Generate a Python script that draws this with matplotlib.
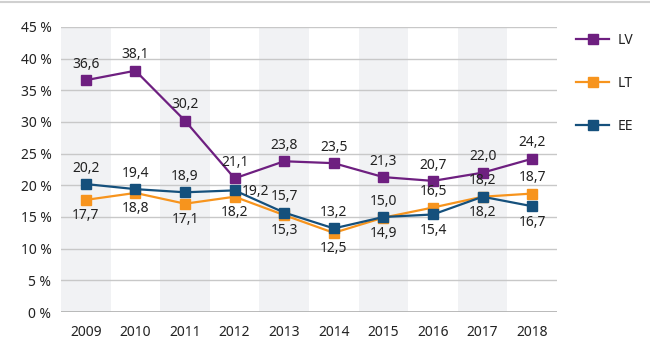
import matplotlib
matplotlib.use("Agg")
import matplotlib.pyplot as plt
from matplotlib.lines import Line2D

years = [2009, 2010, 2011, 2012, 2013, 2014, 2015, 2016, 2017, 2018]
lv = [36.6, 38.1, 30.2, 21.1, 23.8, 23.5, 21.3, 20.7, 22.0, 24.2]
lt = [17.7, 18.8, 17.1, 18.2, 15.3, 12.5, 14.9, 16.5, 18.2, 18.7]
ee = [20.2, 19.4, 18.9, 19.2, 15.7, 13.2, 15.0, 15.4, 18.2, 16.7]
yticks = [0, 5, 10, 15, 20, 25, 30, 35, 40, 45]

# label placement: 'a' above, 'b' below, 'r' right
lv_pos = ['a'] * 10
lt_pos = ['b', 'b', 'b', 'b', 'b', 'b', 'b', 'a', 'b', 'a']
ee_pos = ['a', 'a', 'a', 'r', 'a', 'a', 'a', 'b', 'a', 'b']

c_lv = '#6E1F80'
c_lt = '#F7941D'
c_ee = '#15507C'

plt.rcParams['font.family'] = ['Noto Sans', 'DejaVu Sans']
fig = plt.figure(figsize=(6.5, 3.61), dpi=100)
ax = fig.add_axes([61/650, 1 - 312/361, (557-61)/650, (312-27)/361])

x = list(range(len(years)))
for i in x:
    if i % 2 == 0:
        ax.axvspan(i - 0.5, i + 0.5, color='#F1F2F4', zorder=0, lw=0)

for t in yticks:
    ax.axhline(t, color='#C8C8C8' if t else '#B4B4B4', lw=1.0 if t else 1.3, zorder=1)

series = [(lv, c_lv, 'LV', lv_pos), (lt, c_lt, 'LT', lt_pos), (ee, c_ee, 'EE', ee_pos)]
order = [(lt, c_lt, 'LT', lt_pos), (ee, c_ee, 'EE', ee_pos), (lv, c_lv, 'LV', lv_pos)]
fs = 10
for vals, c, name, pos in order:
    ax.plot(x, vals, color=c, lw=1.6, marker='s', markersize=7, zorder=3)
    for i, v in enumerate(vals):
        s = f"{v:.1f}".replace('.', ',')
        p = pos[i]
        if p == 'a':
            ax.annotate(s, (i, v), xytext=(0, 6), textcoords='offset points',
                        ha='center', va='bottom', fontsize=fs, color='#222222', zorder=4)
        elif p == 'b':
            ax.annotate(s, (i, v), xytext=(0, -6), textcoords='offset points',
                        ha='center', va='top', fontsize=fs, color='#222222', zorder=4)
        else:
            ax.annotate(s, (i, v), xytext=(5, -1), textcoords='offset points',
                        ha='left', va='center', fontsize=fs, color='#222222', zorder=4)

ax.set_xlim(-0.5, len(years) - 0.5)
ax.set_ylim(0, 45)
ax.set_yticks(yticks)
ax.set_yticklabels([f"{t} %" for t in yticks])
ax.set_xticks(x)
ax.set_xticklabels([str(y) for y in years])
ax.tick_params(axis='both', length=0, labelsize=fs, colors='#222222')
ax.tick_params(axis='y', pad=7)
ax.tick_params(axis='x', pad=9)
for sp in ax.spines.values():
    sp.set_visible(False)

handles = [Line2D([0], [0], color=c, lw=1.6, marker='s', markersize=7) for _, c, _, _ in series]
labels = [n for _, _, n, _ in series]
leg = fig.legend(handles, labels, loc='upper left', bbox_to_anchor=(576/650, 1 - 33/361),
                 frameon=False, handlelength=2.4, labelspacing=2.0, fontsize=10,
                 handletextpad=0.6, borderpad=0, borderaxespad=0)
for t in leg.get_texts():
    t.set_color('#222222')

fig.add_artist(Line2D([0, 1], [1 - 1.5/361, 1 - 1.5/361], color='#D0D0D0', lw=1.5))

fig.savefig('out.png', dpi=100, facecolor='white')
